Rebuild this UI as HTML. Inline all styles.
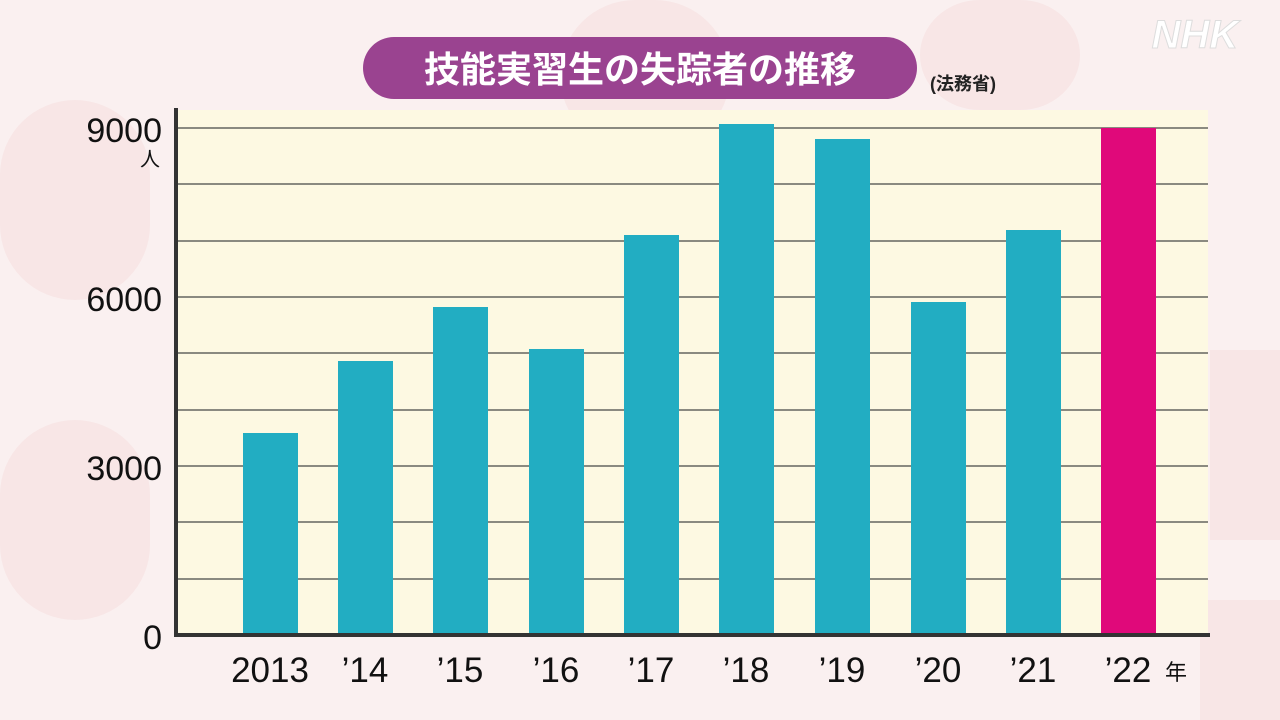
<!DOCTYPE html>
<html><head><meta charset="utf-8"><style>
html,body{margin:0;width:1280px;height:720px;overflow:hidden;background:#fbf1f1;font-family:"Liberation Sans","Noto Sans CJK JP",sans-serif;}
svg{display:block;position:absolute;left:0;top:0}
</style></head><body>
<svg width="1280" height="720" viewBox="0 0 1280 720" xmlns="http://www.w3.org/2000/svg">
<rect width="1280" height="720" fill="#faf0f0"/>
<g fill="#f7e0e0" opacity="0.6">
<rect x="0" y="100" width="150" height="200" rx="75"/><rect x="560" y="0" width="170" height="150" rx="75"/>
<rect x="0" y="420" width="150" height="200" rx="75"/><rect x="1210" y="350" width="70" height="190"/>
<rect x="1200" y="600" width="80" height="120"/><rect x="920" y="0" width="160" height="110" rx="60"/>
</g>
<text x="1195" y="48" font-size="40" font-weight="bold" font-style="italic" fill="#fff" stroke="#ddd" stroke-width="1" text-anchor="middle">NHK</text>
<rect x="363" y="37" width="554" height="62" rx="31" fill="#9a4390"/>
<text x="640" y="82" font-size="36" font-weight="bold" fill="#fff" text-anchor="middle">技能実習生の失踪者の推移</text>
<text x="930" y="90" font-size="18" font-weight="bold" fill="#222">(法務省)</text>
<rect x="178" y="110" width="1030" height="525" fill="#fdf9e2"/>
<g stroke="#8a8a80" stroke-width="2">
<line x1="176" y1="128" x2="1208" y2="128"/><line x1="176" y1="184" x2="1208" y2="184"/>
<line x1="176" y1="241" x2="1208" y2="241"/><line x1="176" y1="297" x2="1208" y2="297"/>
<line x1="176" y1="353" x2="1208" y2="353"/><line x1="176" y1="410" x2="1208" y2="410"/>
<line x1="176" y1="466" x2="1208" y2="466"/><line x1="176" y1="522" x2="1208" y2="522"/>
<line x1="176" y1="579" x2="1208" y2="579"/>
</g>
<g fill="#22adc2">
<rect x="243" y="433" width="55" height="202"/>
<rect x="338" y="361" width="55" height="274"/>
<rect x="433" y="307" width="55" height="328"/>
<rect x="529" y="349" width="55" height="286"/>
<rect x="624" y="235" width="55" height="400"/>
<rect x="719" y="124" width="55" height="511"/>
<rect x="815" y="139" width="55" height="496"/>
<rect x="911" y="302" width="55" height="333"/>
<rect x="1006" y="230" width="55" height="405"/>
</g>
<rect x="1101" y="128" width="55" height="507" fill="#e0097a"/>
<line x1="176" y1="108" x2="176" y2="637" stroke="#333" stroke-width="4"/>
<line x1="174" y1="635" x2="1210" y2="635" stroke="#333" stroke-width="4"/>
<g font-size="34" fill="#111" text-anchor="end">
<text x="162" y="142">9000</text><text x="162" y="311">6000</text><text x="162" y="480">3000</text><text x="162" y="649">0</text>
</g>
<text x="160" y="166" font-size="20" fill="#111" text-anchor="end">人</text>
<g font-size="35" fill="#111" text-anchor="middle">
<text x="270" y="682">2013</text><text x="365" y="682">’14</text><text x="460" y="682">’15</text>
<text x="556" y="682">’16</text><text x="651" y="682">’17</text><text x="746" y="682">’18</text>
<text x="842" y="682">’19</text><text x="938" y="682">’20</text><text x="1033" y="682">’21</text>
<text x="1128" y="682">’22</text>
</g>
<text x="1165" y="680" font-size="22" fill="#111">年</text>
</svg>
</body></html>
